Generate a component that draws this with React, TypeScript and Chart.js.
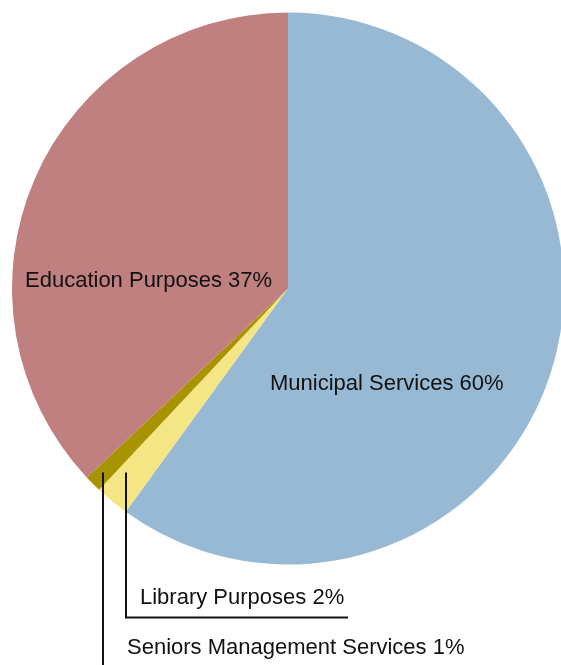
import React, { useEffect, useRef } from "react";
import { Chart, registerables } from "chart.js";

Chart.register(...registerables);

const categories = [
  "Municipal Services",
  "Library Purposes",
  "Seniors Management Services",
  "Education Purposes",
];
const shares = [60, 2, 1, 37];
const colors = ["#98B9D4", "#F4E684", "#A89400", "#C08080"];

const FONT = "22px 'Liberation Sans', Arial, sans-serif";

const labelPlugin = {
  id: "sliceLabels",
  afterDraw(chart: any) {
    const meta = chart.getDatasetMeta(0);
    const arc = meta.data[0];
    if (!arc) return;
    const cx = arc.x;
    const cy = arc.y;
    const ctx = chart.ctx;
    const lbl = (i: number) => `${categories[i]} ${shares[i]}%`;
    ctx.save();
    ctx.font = FONT;
    ctx.fillStyle = "#111";
    ctx.textAlign = "left";
    ctx.textBaseline = "alphabetic";
    // inside labels
    ctx.fillText(lbl(3), cx - 263, cy - 2);
    ctx.fillText(lbl(0), cx - 18, cy + 101);
    // leader lines
    ctx.strokeStyle = "#111";
    ctx.lineWidth = 2;
    ctx.beginPath();
    ctx.moveTo(cx - 162, cy + 184);
    ctx.lineTo(cx - 162, cy + 329);
    ctx.lineTo(cx + 60, cy + 329);
    ctx.moveTo(cx - 185, cy + 184);
    ctx.lineTo(cx - 185, cy + 390);
    ctx.stroke();
    ctx.fillText(lbl(1), cx - 148, cy + 315);
    ctx.fillText(lbl(2), cx - 161, cy + 365);
    ctx.restore();
  },
};

export default function App() {
  const ref = useRef<HTMLCanvasElement>(null);
  useEffect(() => {
    if (!ref.current) return;
    const chart = new Chart(ref.current, {
      type: "pie",
      data: {
        labels: categories,
        datasets: [
          {
            data: shares,
            backgroundColor: colors,
            borderWidth: 0,
          },
        ],
      },
      options: {
        responsive: false,
        animation: false,
        devicePixelRatio: 1,
        layout: { padding: { left: 12, top: 12, right: 12, bottom: 100 } },
        plugins: {
          legend: { display: false },
          tooltip: { enabled: false },
        },
      },
      plugins: [labelPlugin],
    });
    return () => chart.destroy();
  }, []);
  return (
    <div
      style={{
        position: "fixed",
        left: 0,
        top: 0,
        width: 561,
        height: 665,
        overflow: "hidden",
        background: "#fff",
      }}
    >
      <canvas ref={ref} width={576} height={665} style={{ width: 576, height: 665, display: "block" }} />
    </div>
  );
}
